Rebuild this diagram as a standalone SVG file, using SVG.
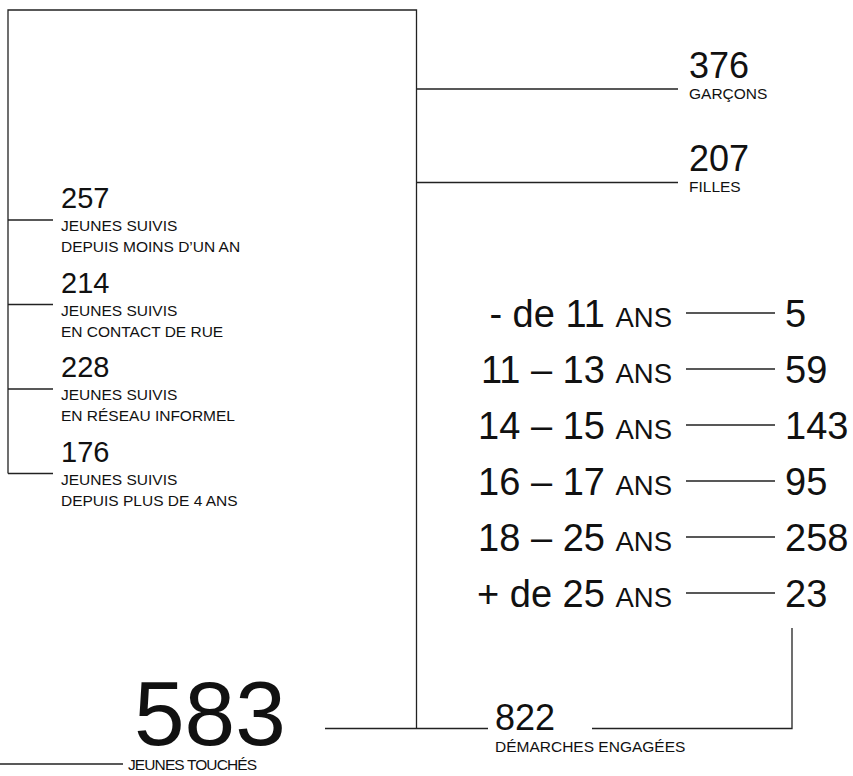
<svg xmlns="http://www.w3.org/2000/svg" width="853" height="776" viewBox="0 0 853 776">
<style>
text{font-family:"Liberation Sans",Arial,sans-serif;fill:#111}
.big{font-size:36px}
.age{font-size:38px}
.mid{font-size:29px}
.lab{font-size:15.5px}
.ans{font-size:27.5px}
.huge{font-size:91px}
.c{fill:none;stroke:#222;stroke-width:1.3}
</style>
<rect width="853" height="776" fill="#fff"/>
<g id="connectors">
<path class="c" d="M8,473.5 V10 H416.5 V728.5"/>
<path class="c" d="M8,220 H53 M8,304.5 H53 M8,389 H53"/>
<path class="c" d="M8,473.5 H53"/>
<path class="c" d="M416.5,89 H678 M416.5,182.5 H678"/>
<path class="c" d="M325,728.5 H488 M592,728.5 H792 V628"/>
<path class="c" d="M0,764 H123"/>
<path class="c" d="M686,313 H775 M686,369 H775 M686,425 H775 M686,481 H775 M686,537 H775 M686,593 H775"/>
</g>
<g id="garcons"><text class="big" x="689" y="78">376</text><text class="lab" x="689" y="99">GARÇONS</text></g>
<g id="filles"><text class="big" x="689" y="171">207</text><text class="lab" x="689" y="192">FILLES</text></g>
<g id="suivis-moins-1an"><text class="mid" x="61" y="208">257</text><text class="lab" x="61" y="231">JEUNES SUIVIS</text><text class="lab" x="61" y="252">DEPUIS MOINS D’UN AN</text></g>
<g id="suivis-rue"><text class="mid" x="61" y="292.5">214</text><text class="lab" x="61" y="315.5">JEUNES SUIVIS</text><text class="lab" x="61" y="336.5">EN CONTACT DE RUE</text></g>
<g id="suivis-reseau"><text class="mid" x="61" y="377">228</text><text class="lab" x="61" y="400">JEUNES SUIVIS</text><text class="lab" x="61" y="421">EN RÉSEAU INFORMEL</text></g>
<g id="suivis-plus-4ans"><text class="mid" x="61" y="461.5">176</text><text class="lab" x="61" y="484.5">JEUNES SUIVIS</text><text class="lab" x="61" y="505.5">DEPUIS PLUS DE 4 ANS</text></g>
<g id="age-1"><text class="age" x="672" y="326.5" text-anchor="end">- de 11 <tspan class="ans">ANS</tspan></text><text class="age" x="785" y="326.5">5</text></g>
<g id="age-2"><text class="age" x="672" y="382.5" text-anchor="end">11 – 13 <tspan class="ans">ANS</tspan></text><text class="age" x="785" y="382.5">59</text></g>
<g id="age-3"><text class="age" x="672" y="438.5" text-anchor="end">14 – 15 <tspan class="ans">ANS</tspan></text><text class="age" x="785" y="438.5">143</text></g>
<g id="age-4"><text class="age" x="672" y="494.5" text-anchor="end">16 – 17 <tspan class="ans">ANS</tspan></text><text class="age" x="785" y="494.5">95</text></g>
<g id="age-5"><text class="age" x="672" y="550.5" text-anchor="end">18 – 25 <tspan class="ans">ANS</tspan></text><text class="age" x="785" y="550.5">258</text></g>
<g id="age-6"><text class="age" x="672" y="606.5" text-anchor="end">+ de 25 <tspan class="ans">ANS</tspan></text><text class="age" x="785" y="606.5">23</text></g>
<g id="jeunes-touches"><text class="huge" x="134" y="745">583</text><text class="lab" x="128" y="770" textLength="129">JEUNES TOUCHÉS</text></g>
<g id="demarches"><text class="big" x="495" y="730">822</text><text class="lab" x="495" y="752">DÉMARCHES ENGAGÉES</text></g>
</svg>
